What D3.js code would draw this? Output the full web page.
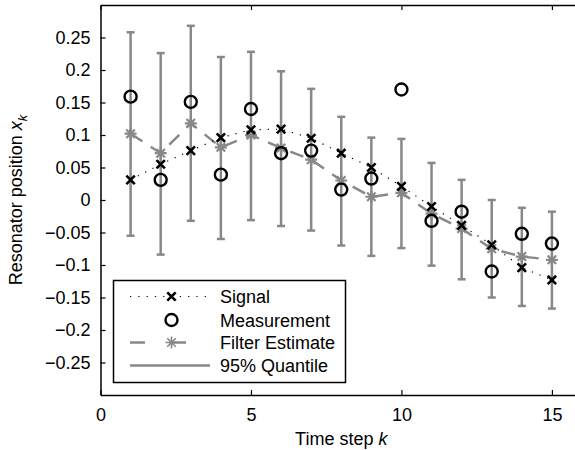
<!DOCTYPE html>
<html>
<head>
<meta charset="utf-8">
<script src="https://cdn.jsdelivr.net/npm/d3@7"></script>
<style>
  body { margin: 0; background: #fff; }
  text { font-family: "Liberation Sans", Arial, sans-serif; font-size: 18px; fill: #000; }
</style>
</head>
<body>
<div id="chart"></div>
<script>
var steps = [1, 2, 3, 4, 5, 6, 7, 8, 9, 10, 11, 12, 13, 14, 15];
var signal = [0.031, 0.055, 0.076, 0.096, 0.108, 0.109, 0.095, 0.072, 0.050, 0.021, -0.010, -0.039, -0.069, -0.104, -0.123];
var measurement = [0.159, 0.031, 0.151, 0.039, 0.140, 0.072, 0.076, 0.016, 0.033, 0.170, -0.032, -0.018, -0.110, -0.052, -0.067];
var estimate = [0.102, 0.072, 0.118, 0.081, 0.100, 0.080, 0.062, 0.030, 0.005, 0.011, -0.021, -0.044, -0.075, -0.087, -0.092];
var upper = [0.258, 0.226, 0.268, 0.220, 0.228, 0.198, 0.171, 0.128, 0.096, 0.094, 0.057, 0.031, 0.000, -0.012, -0.018];
var lower = [-0.055, -0.084, -0.032, -0.060, -0.031, -0.040, -0.047, -0.070, -0.086, -0.074, -0.101, -0.122, -0.150, -0.163, -0.167];
var xTicks = [0, 5, 10, 15];
var yTicks = [-0.25, -0.2, -0.15, -0.1, -0.05, 0, 0.05, 0.1, 0.15, 0.2, 0.25];
var legendLabels = ["Signal", "Measurement", "Filter Estimate", "95% Quantile"];

var W = 575, H = 450;
var gray = "#888888";

var svg = d3.select("#chart").append("svg")
    .attr("width", W)
    .attr("height", H);

var x = d3.scaleLinear().domain([0, 16]).range([100.5, 582]);
var y = d3.scaleLinear().domain([-0.3, 0.3]).range([395, 5]);

var fmt = function(v) {
    var s = String(+v.toFixed(2));
    return s.replace("-", "\u2212");
}

// axes (ticks inside, box)
var axisB = d3.axisBottom(x).tickValues(xTicks).tickSizeInner(-5).tickSizeOuter(0).tickPadding(13).tickFormat(d3.format("d"));
var axisT = d3.axisTop(x).tickValues(xTicks).tickSizeInner(-5).tickSizeOuter(0).tickFormat("");
var axisL = d3.axisLeft(y).tickValues(yTicks).tickSizeInner(-5).tickSizeOuter(0).tickPadding(10).tickFormat(fmt);

svg.append("g").attr("transform", "translate(0,395)").call(axisB);
svg.append("g").attr("transform", "translate(0,5)").call(axisT);
svg.append("g").attr("transform", "translate(100.5,0)").call(axisL);
svg.selectAll(".domain").attr("stroke", "#000").attr("stroke-width", 1.5);
svg.selectAll(".tick line").attr("stroke", "#000").attr("stroke-width", 1.2);
svg.selectAll(".tick text").attr("font-family", "Liberation Sans, Arial, sans-serif").attr("font-size", 18).attr("fill", "#000");

var rows = steps.map(function(k, i) {
    return { k: k, s: signal[i], m: measurement[i], e: estimate[i], lo: lower[i], hi: upper[i] };
});

// error bars
var eb = svg.append("g").attr("stroke", gray).attr("stroke-width", 2.5);
rows.forEach(function(d) {
    eb.append("line").attr("x1", x(d.k)).attr("x2", x(d.k)).attr("y1", y(d.lo)).attr("y2", y(d.hi));
    eb.append("line").attr("x1", x(d.k) - 4).attr("x2", x(d.k) + 4).attr("y1", y(d.lo)).attr("y2", y(d.lo));
    eb.append("line").attr("x1", x(d.k) - 4).attr("x2", x(d.k) + 4).attr("y1", y(d.hi)).attr("y2", y(d.hi));
});

var starPath = function(r) {
    var a = r * 0.7071;
    return "M" + (-r) + ",0L" + r + ",0M0," + (-r) + "L0," + r +
        "M" + (-a) + "," + (-a) + "L" + a + "," + a + "M" + (-a) + "," + a + "L" + a + "," + (-a);
}
var crossPath = function(r) {
    return "M" + (-r) + "," + (-r) + "L" + r + "," + r + "M" + (-r) + "," + r + "L" + r + "," + (-r);
}

// filter estimate
svg.append("path")
    .datum(rows)
    .attr("fill", "none")
    .attr("stroke", gray)
    .attr("stroke-width", 2.5)
    .attr("stroke-dasharray", "14,10")
    .attr("d", d3.line().x(function(d) { return x(d.k) }).y(function(d) { return y(d.e) }));
svg.selectAll("path.est")
    .data(rows)
    .enter().append("path")
        .attr("class", "est")
        .attr("transform", function(d) { return "translate(" + x(d.k) + "," + y(d.e) + ")" })
        .attr("d", starPath(6))
        .attr("stroke", gray)
        .attr("stroke-width", 2.2)
        .attr("fill", "none");

// signal
svg.append("path")
    .datum(rows)
    .attr("fill", "none")
    .attr("stroke", "#000")
    .attr("stroke-width", 1.2)
    .attr("stroke-dasharray", "1.2,7")
    .attr("d", d3.line().x(function(d) { return x(d.k) }).y(function(d) { return y(d.s) }));
svg.selectAll("path.sig")
    .data(rows)
    .enter().append("path")
        .attr("class", "sig")
        .attr("transform", function(d) { return "translate(" + x(d.k) + "," + y(d.s) + ")" })
        .attr("d", crossPath(4.2))
        .attr("stroke", "#000")
        .attr("stroke-width", 2.6)
        .attr("fill", "none");

// measurements
svg.selectAll("circle.meas")
    .data(rows)
    .enter().append("circle")
        .attr("class", "meas")
        .attr("cx", function(d) { return x(d.k) })
        .attr("cy", function(d) { return y(d.m) })
        .attr("r", 6)
        .attr("fill", "none")
        .attr("stroke", "#000")
        .attr("stroke-width", 2.4);

// legend
var lg = svg.append("g");
lg.append("rect")
    .attr("x", 113.5).attr("y", 280.5)
    .attr("width", 232).attr("height", 102)
    .attr("fill", "#fff").attr("stroke", "#000").attr("stroke-width", 1.5);
var ly = [296.5, 320, 342.5, 365.5];
var lx1 = 130, lx2 = 210, lxm = 171.5;
// signal entry
lg.append("line").attr("x1", lx1).attr("x2", lx2).attr("y1", ly[0]).attr("y2", ly[0])
    .attr("stroke", "#000").attr("stroke-width", 1.2).attr("stroke-dasharray", "1.2,7.1");
lg.append("path").attr("transform", "translate(" + lxm + "," + ly[0] + ")").attr("d", crossPath(4.2))
    .attr("stroke", "#000").attr("stroke-width", 2.6).attr("fill", "none");
// measurement entry
lg.append("circle").attr("cx", lxm).attr("cy", ly[1]).attr("r", 6)
    .attr("fill", "none").attr("stroke", "#000").attr("stroke-width", 2.4);
// estimate entry
lg.append("line").attr("x1", lx1).attr("x2", lx2).attr("y1", ly[2]).attr("y2", ly[2])
    .attr("stroke", gray).attr("stroke-width", 2.5).attr("stroke-dasharray", "15,26");
lg.append("path").attr("transform", "translate(" + lxm + "," + ly[2] + ")").attr("d", starPath(6))
    .attr("stroke", gray).attr("stroke-width", 1.6).attr("fill", "none");
// quantile entry
lg.append("line").attr("x1", lx1).attr("x2", lx2).attr("y1", ly[3]).attr("y2", ly[3])
    .attr("stroke", gray).attr("stroke-width", 2.5);

lg.selectAll("text.lab")
    .data(legendLabels)
    .enter().append("text")
        .attr("class", "lab")
        .attr("x", 220)
        .attr("y", function(d, i) { return ly[i] + 6.5 })
        .text(function(d) { return d });

// axis labels
var xl = svg.append("text")
    .attr("x", x(8))
    .attr("y", 445)
    .attr("text-anchor", "middle");
xl.append("tspan").text("Time step ");
xl.append("tspan").attr("font-style", "italic").text("k");

var yl = svg.append("text")
    .attr("transform", "translate(22,200) rotate(-90)")
    .attr("text-anchor", "middle");
yl.append("tspan").text("Resonator position ");
yl.append("tspan").attr("font-style", "italic").text("x");
yl.append("tspan").attr("font-style", "italic").attr("font-size", 13).attr("dy", 5).text("k");
</script>
</body>
</html>
